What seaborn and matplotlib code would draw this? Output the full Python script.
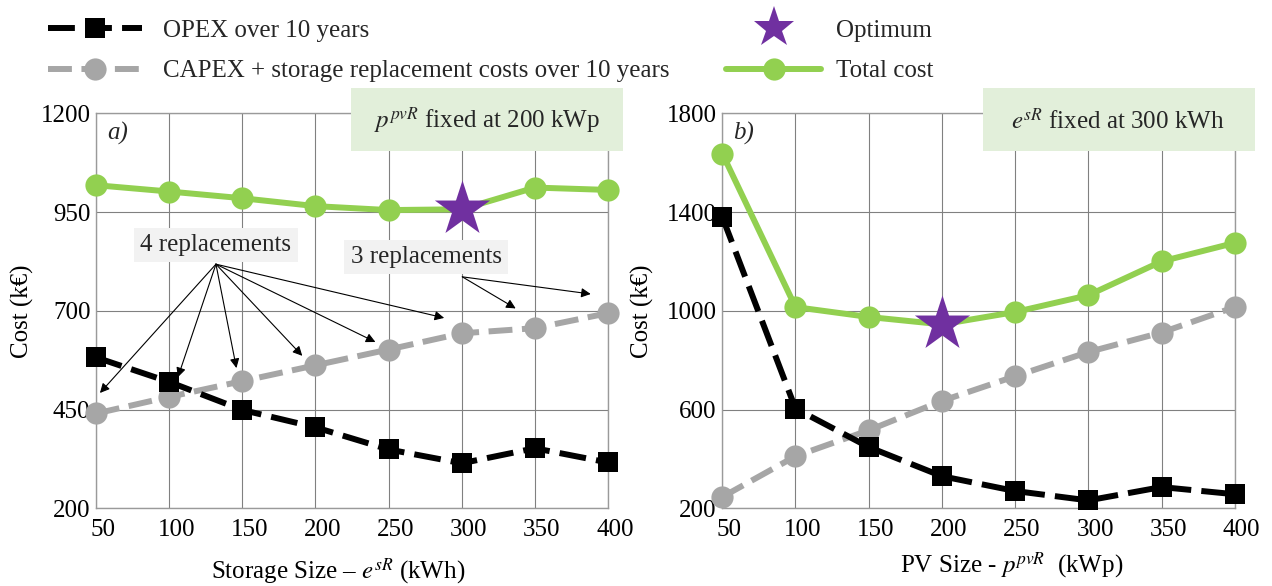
import matplotlib
matplotlib.use("Agg")
import matplotlib.pyplot as plt
import matplotlib.transforms as mtransforms
from matplotlib.lines import Line2D
from matplotlib.patches import Rectangle
import seaborn as sns

# ---------------- data ----------------
sizes = [50, 100, 150, 200, 250, 300, 350, 400]

# a) storage size varied, PV fixed at 200 kWp
storage_opex = [582, 520, 449, 405, 349, 314, 352, 316]
storage_capex = [440, 482, 522, 562, 602, 643, 656, 694]
storage_total = [1018, 1002, 985, 965, 955, 957, 1012, 1006]
storage_optimum = 300

# b) PV size varied, storage fixed at 300 kWh
pv_opex = [1380, 604, 448, 330, 270, 232, 286, 257]
pv_capex = [246, 411, 516, 635, 735, 833, 912, 1015]
pv_total = [1637, 1015, 975, 945, 995, 1063, 1200, 1275]
pv_optimum = 200

yticks_a = [200, 450, 700, 950, 1200]
yticks_b = [200, 600, 1000, 1400, 1800]

legend_labels = ["OPEX over 10 years",
                 "CAPEX + storage replacement costs over 10 years",
                 "Optimum", "Total cost"]

# ---------------- style ----------------
sns.set_theme(style="whitegrid")
plt.rcParams["font.family"] = ["Liberation Serif", "DejaVu Serif"]
plt.rcParams["mathtext.fontset"] = "stix"

BLACK = "#000000"
GRAY = "#a6a6a6"
GREEN = "#92d050"
PURPLE = "#7030a0"
FS = 18
LW = 4.3
DASH_BLACK = (0, (4.5, 1.7))
DASH_GRAY = (0, (4.0, 1.6))

W, H = 1272, 586
fig = plt.figure(figsize=(W / 100, H / 100), dpi=100)


def fig_rect(x0, y_top, x1, y_bottom):
    return [x0 / W, 1 - y_bottom / H, (x1 - x0) / W, (y_bottom - y_top) / H]


ax_a = fig.add_axes(fig_rect(96, 113.3, 608, 508.3))
ax_b = fig.add_axes(fig_rect(722.3, 113.3, 1234.7, 508.3))


def draw(ax, opex, capex, total, opt_x, yticks):
    sns.lineplot(x=sizes, y=capex, ax=ax, color=GRAY, linewidth=LW,
                 linestyle=DASH_GRAY, marker="o", markersize=16,
                 markeredgewidth=0, clip_on=False, zorder=3, legend=False)
    sns.lineplot(x=sizes, y=opex, ax=ax, color=BLACK, linewidth=LW,
                 linestyle=DASH_BLACK, marker="s", markersize=15,
                 markeredgewidth=0, clip_on=False, zorder=4, legend=False)
    sns.lineplot(x=sizes, y=total, ax=ax, color=GREEN, linewidth=LW,
                 marker="o", markersize=16, markeredgewidth=0,
                 clip_on=False, zorder=5, legend=False)
    opt_y = total[sizes.index(opt_x)]
    sns.scatterplot(x=[opt_x], y=[opt_y], ax=ax, marker="*", s=1750,
                    color=PURPLE, linewidth=0, clip_on=False, zorder=6,
                    legend=False)
    ax.set_xlim(sizes[0], sizes[-1])
    ax.set_ylim(yticks[0], yticks[-1])
    ax.set_xticks(sizes)
    ax.set_yticks(yticks)
    ax.grid(True, color="#808080", linewidth=0.8)
    for sp in ax.spines.values():
        sp.set_color("#9a9a9a")
        sp.set_linewidth(1.0)
    ax.tick_params(axis="both", length=0, labelsize=FS, colors="black")
    ax.tick_params(axis="x", pad=8)
    ax.tick_params(axis="y", pad=4)
    offset = mtransforms.ScaledTranslation(7 / 100, 0, fig.dpi_scale_trans)
    for lab in ax.get_xticklabels():
        lab.set_transform(lab.get_transform() + offset)
    ax.set_ylabel("Cost (k€)", fontsize=FS, color="black")


draw(ax_a, storage_opex, storage_capex, storage_total, storage_optimum, yticks_a)
draw(ax_b, pv_opex, pv_capex, pv_total, pv_optimum, yticks_b)

ax_a.yaxis.set_label_coords(-0.121, 0.5)
ax_b.yaxis.set_label_coords(-0.133, 0.5)
ax_a.set_xlabel("Storage Size – $e^{sR}$ (kWh)", fontsize=FS, color="black")
ax_b.set_xlabel("PV Size - $p^{pvR}$  (kWp)", fontsize=FS, color="black")
ax_a.xaxis.set_label_coords(0.472, -0.121)
ax_b.xaxis.set_label_coords(0.565, -0.106)

ax_a.text(0.043, 0.95, "a)", transform=ax_a.transAxes, fontsize=FS,
          style="italic", ha="center", va="center")
ax_b.text(0.042, 0.95, "b)", transform=ax_b.transAxes, fontsize=FS,
          style="italic", ha="center", va="center")

# replacement annotations (panel a)
ax_a.text(132, 866, "4 replacements", ha="center", va="center", fontsize=FS,
          bbox=dict(boxstyle="square,pad=0.25", fc="#f2f2f2", ec="none"),
          zorder=8)
four_tips = [(52.7, 492), (106, 532), (146, 555), (191, 586), (241, 621),
             (288, 682)]
for tx, ty in four_tips:
    ax_a.annotate("", xy=(tx, ty), xytext=(132, 818),
                  arrowprops=dict(arrowstyle="-|>", color="black", lw=0.8,
                                  mutation_scale=14, shrinkA=0, shrinkB=0),
                  zorder=7)
ax_a.text(275.6, 836, "3 replacements", ha="center", va="center", fontsize=FS,
          bbox=dict(boxstyle="square,pad=0.25", fc="#f2f2f2", ec="none"),
          zorder=8)
three_tips = [(336.9, 706), (388.2, 742.5)]
for tx, ty in three_tips:
    ax_a.annotate("", xy=(tx, ty), xytext=(300.4, 786),
                  arrowprops=dict(arrowstyle="-|>", color="black", lw=0.8,
                                  mutation_scale=14, shrinkA=0, shrinkB=0),
                  zorder=7)

# fixed-parameter boxes
for (x0, x1, tx, label) in [(351, 623, 487, "$p^{pvR}$ fixed at 200 kWp"),
                            (983, 1255, 1118, "$e^{sR}$ fixed at 300 kWh")]:
    fig.add_artist(Rectangle((x0 / W, 1 - 151 / H), (x1 - x0) / W, 63 / H,
                             transform=fig.transFigure, facecolor="#e2efda",
                             edgecolor="none", zorder=2))
    fig.text(tx / W, 1 - 121 / H, label, fontsize=FS, ha="center",
             va="center", zorder=3)

# legends
h_opex = Line2D([], [], color=BLACK, lw=LW, ls=DASH_BLACK, marker="s",
                ms=15, mew=0)
h_capex = Line2D([], [], color=GRAY, lw=LW, ls=DASH_GRAY, marker="o",
                 ms=16, mew=0)
h_opt = Line2D([], [], ls="none", marker="*", ms=31, color=PURPLE, mew=0)
h_total = Line2D([], [], color=GREEN, lw=LW, marker="o", ms=16, mew=0)

leg1 = fig.legend([h_opex, h_capex], legend_labels[:2], loc="upper left",
                  bbox_to_anchor=(48 / W, 1 - 19 / H), frameon=False,
                  fontsize=FS, handlelength=3.76, handletextpad=0.84,
                  borderpad=0, borderaxespad=0, labelspacing=0.73)
leg2 = fig.legend([h_opt, h_total], legend_labels[2:], loc="upper left",
                  bbox_to_anchor=(726 / W, 1 - 19 / H), frameon=False,
                  fontsize=FS, handlelength=3.8, handletextpad=0.6,
                  borderpad=0, borderaxespad=0, labelspacing=0.73)

fig.savefig("out.png", dpi=100)
